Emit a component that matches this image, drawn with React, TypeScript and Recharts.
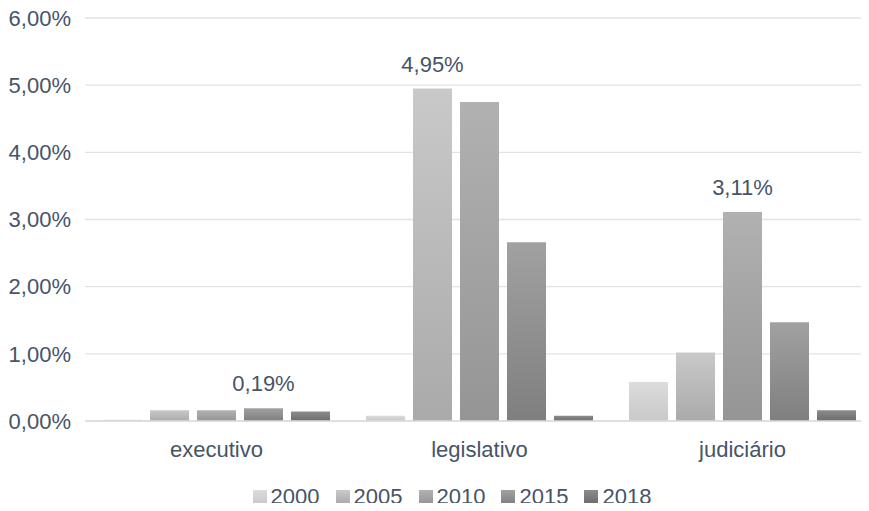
import { BarChart, Bar, XAxis, YAxis, CartesianGrid, Legend } from 'recharts';

const categories = ['executivo', 'legislativo', 'judiciário'];
const years = ['2000', '2005', '2010', '2015', '2018'];

const v2000 = [0.02, 0.08, 0.58];
const v2005 = [0.16, 4.95, 1.02];
const v2010 = [0.16, 4.75, 3.11];
const v2015 = [0.19, 2.66, 1.47];
const v2018 = [0.14, 0.08, 0.16];

const yTicks = [0, 1, 2, 3, 4, 5, 6];

// which bar of each series carries a value label (category index)
const labels2005 = [1];
const labels2010 = [2];
const labels2015 = [0];

const seriesValues = [v2000, v2005, v2010, v2015, v2018];
const seriesLabels: number[][] = [[], labels2005, labels2010, labels2015, []];

const GRADIENTS = [
  ['#dcdcdc', '#c9c9c9'],
  ['#c9c9c9', '#aaaaaa'],
  ['#b1b1b1', '#959595'],
  ['#a1a1a1', '#7f7f7f'],
  ['#8c8c8c', '#6c6c6c'],
];

const TEXT = '#465468';
const FONT = '"Liberation Sans", Arial, sans-serif';
const FS = 22;

const data = categories.map((name, i) => {
  const row: Record<string, string | number> = { name };
  years.forEach((y, s) => {
    row[y] = seriesValues[s][i];
  });
  return row;
});

const fmt = (v: number) => v.toFixed(2).replace('.', ',') + '%';

function makeLabel(s: number) {
  return (props: any) => {
    const { x, y, width, index, value } = props;
    if (!seriesLabels[s].includes(index)) return null;
    return (
      <text
        x={x + width / 2}
        y={y - 17}
        textAnchor="middle"
        fill={TEXT}
        fontSize={FS}
        fontFamily={FONT}
      >
        {fmt(value)}
      </text>
    );
  };
}

function LegendContent() {
  return (
    <div style={{ display: 'flex', justifyContent: 'center', alignItems: 'center', height: 28, paddingLeft: 30, fontFamily: FONT, fontSize: FS, color: TEXT }}>
      {years.map((y, s) => (
        <div key={y} style={{ display: 'flex', alignItems: 'center', marginRight: s < years.length - 1 ? 16 : 0 }}>
          <span
            style={{
              width: 14,
              height: 14,
              marginRight: 4,
              background: `linear-gradient(${GRADIENTS[s][0]}, ${GRADIENTS[s][1]})`,
            }}
          />
          <span>{y}</span>
        </div>
      ))}
    </div>
  );
}

export default function App() {
  return (
    <div style={{ width: 869, height: 511, overflow: 'hidden', margin: -8, background: '#fff' }}>
      <BarChart
        width={880}
        height={511}
        data={data}
        margin={{ top: 18, right: 6, bottom: 0, left: 0 }}
        barSize={39}
        barGap={8}
      >
        <defs>
          {GRADIENTS.map((g, s) => (
            <linearGradient key={s} id={`grad${s}`} x1="0" y1="0" x2="0" y2="1">
              <stop offset="0%" stopColor={g[0]} />
              <stop offset="100%" stopColor={g[1]} />
            </linearGradient>
          ))}
        </defs>
        <CartesianGrid vertical={false} stroke="#dfe3e8" strokeWidth={1.3} />
        <XAxis
          dataKey="name"
          height={62}
          axisLine={{ stroke: '#d9dde3', strokeWidth: 1.3 }}
          tickLine={false}
          tickSize={0}
          tickMargin={20}
          tick={{ fill: TEXT, fontSize: FS, fontFamily: FONT }}
        />
        <YAxis
          width={85}
          domain={[0, 6]}
          ticks={yTicks}
          axisLine={false}
          tickLine={false}
          tickSize={0}
          tickMargin={14}
          tickFormatter={fmt}
          tick={{ fill: TEXT, fontSize: FS, fontFamily: FONT }}
        />
        {years.map((y, s) => (
          <Bar
            key={y}
            dataKey={y}
            fill={`url(#grad${s})`}
            isAnimationActive={false}
            label={makeLabel(s)}
          />
        ))}
        <Legend verticalAlign="bottom" height={28} content={<LegendContent />} />
      </BarChart>
    </div>
  );
}
